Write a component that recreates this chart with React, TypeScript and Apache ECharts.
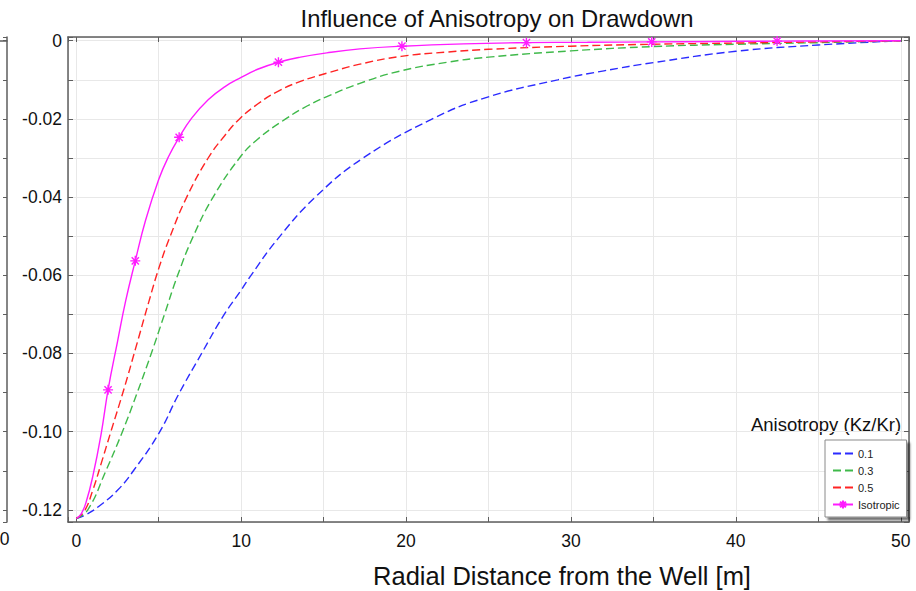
import React, { useEffect, useRef } from 'react';
import * as echarts from 'echarts';

// ---------- data ----------
const SERIES_NAMES = ['0.1', '0.3', '0.5', 'Isotropic'];

const aniso01: [number, number][] = [
  [0, -0.1222], [0.6, -0.1212], [1.4, -0.119], [2.5, -0.115], [3.5, -0.1098],
  [5, -0.1005], [6.2, -0.0905], [7.6, -0.08], [8.9, -0.0705], [10, -0.0638],
  [10.6, -0.06], [12.2, -0.0508], [14.5, -0.04], [17.4, -0.03], [21.6, -0.02],
  [24.8, -0.0146], [29.2, -0.01], [32, -0.0077], [35, -0.0056], [40, -0.0027],
  [45, -0.0011], [50, 0],
];

const aniso03: [number, number][] = [
  [0, -0.1222], [0.7, -0.12], [1.8, -0.11], [2.8, -0.1], [3.7, -0.09],
  [4.55, -0.08], [5.35, -0.07], [6.15, -0.06], [7.1, -0.05], [8.3, -0.04],
  [9.9, -0.03], [11, -0.0252], [12.7, -0.02], [14, -0.0167], [15.2, -0.0143],
  [17.2, -0.0109], [19.6, -0.0078], [22.5, -0.0055], [25, -0.0042], [30, -0.0026],
  [35, -0.0015], [40, -0.0009], [45, -0.0005], [50, 0],
];

const aniso05: [number, number][] = [
  [0, -0.1222], [0.5, -0.1203], [1, -0.115], [1.5, -0.1083], [2.1, -0.1],
  [2.9, -0.089], [3.6, -0.0787], [4.4, -0.0668], [5, -0.0583], [5.7, -0.05],
  [6.7, -0.04], [8, -0.03], [9, -0.0243], [9.9, -0.02], [11, -0.0162],
  [12.2, -0.013], [13.6, -0.0104], [15.2, -0.0083], [17.2, -0.006], [19.7, -0.004],
  [22.5, -0.0029], [25, -0.0022], [30, -0.0014], [35, -0.0009], [40, -0.0006],
  [45, -0.0003], [50, 0],
];

const isotropic: [number, number][] = [
  [0, -0.1222], [0.3, -0.121], [0.6, -0.118], [1, -0.1115], [1.5, -0.1008],
  [1.93, -0.0893], [2.5, -0.077], [3, -0.0665], [3.58, -0.0563], [4.2, -0.046],
  [5, -0.0355], [5.6, -0.0296], [6.24, -0.0247], [7, -0.0198], [8, -0.0151],
  [9, -0.0118], [10, -0.0094], [11, -0.0073], [12.26, -0.0055], [13.6, -0.0042],
  [15.2, -0.0031], [17.2, -0.0021], [19.75, -0.0014], [23.5, -0.0008], [27.3, -0.0005],
  [31, -0.0004], [34.9, -0.0003], [38.7, -0.0002], [42.5, -0.0001], [50, 0],
];

const isoMarkerX = [1.93, 3.58, 6.24, 12.26, 19.75, 27.3, 34.9, 42.5];

const X_LABEL_STEP = 10;
const Y_LABEL_STEP = 0.02;

// axis extents
const X_MIN = -0.5;
const X_MAX = 50.5;
const Y_MIN = -0.1231;
const Y_MAX = 0.00095;

// ---------- styles ----------
const FONT = '"Liberation Sans", Arial, Helvetica, sans-serif';
const AXIS_COLOR = '#5e5e5e';
const GRID_COLOR = '#e8e8e8';
const COLORS = ['#2b2bff', '#3fb94a', '#ff2424', '#ff1cff'];
const STAR = 'path://M0,-5L0,5M-5,0L5,0M-3.6,-3.6L3.6,3.6M-3.6,3.6L3.6,-3.6';

const xFormatter = (v: number) => {
  const r = v / X_LABEL_STEP;
  return Math.abs(r - Math.round(r)) < 1e-6 ? String(Math.round(v)) : '';
};
const yFormatter = (v: number) => {
  const r = v / Y_LABEL_STEP;
  if (Math.abs(r - Math.round(r)) > 1e-6) return '';
  if (Math.abs(v) < 1e-9) return '0';
  return v.toFixed(2);
};

const App: React.FC = () => {
  const ref = useRef<HTMLDivElement>(null);

  useEffect(() => {
    document.body.style.margin = '0';
    if (!ref.current) return;
    const chart = echarts.init(ref.current, null, { renderer: 'svg' });

    const valueAxisBase = {
      type: 'value' as const,
      axisLine: { show: true, onZero: false, lineStyle: { color: AXIS_COLOR, width: 1.5 } },
      axisTick: { show: true, inside: true, length: 5, lineStyle: { color: AXIS_COLOR, width: 1 } },
    };

    const dashed = (name: string, data: [number, number][], color: string) => ({
      name,
      type: 'line' as const,
      xAxisIndex: 0,
      yAxisIndex: 0,
      data,
      smooth: 0.45,
      symbol: 'none',
      lineStyle: { color, width: 1.4, type: [8, 4] },
      itemStyle: { color },
      z: 3,
    });

    const option: any = {
      animation: false,
      textStyle: { fontFamily: FONT },
      grid: [
        { left: 68, right: 7, top: 37, bottom: 69, outerBoundsMode: 'none', containLabel: false },
        { left: -100, width: 107, top: 37, bottom: 69, outerBoundsMode: 'none', containLabel: false },
      ],
      xAxis: [
        {
          ...valueAxisBase,
          gridIndex: 0,
          min: X_MIN,
          max: X_MAX,
          splitNumber: 10,
          position: 'bottom',
          axisLabel: { show: true, interval: 0, formatter: xFormatter, color: '#111', fontSize: 17.5, margin: 10, fontFamily: FONT, hideOverlap: false },
          splitLine: { show: true, lineStyle: { color: GRID_COLOR, width: 1 } },
        },
        {
          ...valueAxisBase,
          gridIndex: 0,
          min: X_MIN,
          max: X_MAX,
          splitNumber: 10,
          position: 'top',
          axisLabel: { show: false },
          splitLine: { show: false },
        },
        {
          type: 'value',
          gridIndex: 1,
          min: 0,
          max: 1,
          position: 'bottom',
          axisLine: { show: true, lineStyle: { color: AXIS_COLOR, width: 1.5 } },
          axisTick: { show: false },
          axisLabel: { show: false },
          splitLine: { show: false },
        },
      ],
      yAxis: [
        {
          ...valueAxisBase,
          gridIndex: 0,
          min: Y_MIN,
          max: Y_MAX,
          splitNumber: 12,
          position: 'left',
          axisLabel: { show: true, interval: 0, formatter: yFormatter, color: '#111', fontSize: 17.5, margin: 6, fontFamily: FONT, hideOverlap: false },
          splitLine: { show: true, lineStyle: { color: GRID_COLOR, width: 1 } },
        },
        {
          ...valueAxisBase,
          gridIndex: 0,
          min: Y_MIN,
          max: Y_MAX,
          splitNumber: 12,
          position: 'right',
          axisLabel: { show: false },
          splitLine: { show: false },
        },
        {
          ...valueAxisBase,
          gridIndex: 1,
          min: Y_MIN,
          max: Y_MAX,
          splitNumber: 12,
          position: 'right',
          axisTick: { show: true, inside: true, length: 4, lineStyle: { color: AXIS_COLOR, width: 1 } },
          axisLabel: { show: false },
          splitLine: { show: false },
        },
      ],
      legend: {
        orient: 'vertical',
        left: 825,
        top: 440,
        data: SERIES_NAMES.map((name, i) =>
          i < 3 ? { name, itemStyle: { opacity: 0 } } : { name }
        ),
        backgroundColor: '#ffffff',
        borderColor: '#8a8a8a',
        borderWidth: 1,
        borderRadius: 0,
        shadowColor: 'rgba(0,0,0,0.55)',
        shadowBlur: 2,
        shadowOffsetX: 3,
        shadowOffsetY: 3,
        padding: [7, 7, 6, 7],
        itemWidth: 20,
        itemHeight: 10,
        itemGap: 4,
        textStyle: { fontSize: 11, lineHeight: 13, color: '#222', fontFamily: FONT },
      },
      series: [
        dashed(SERIES_NAMES[0], aniso01, COLORS[0]),
        dashed(SERIES_NAMES[1], aniso03, COLORS[1]),
        dashed(SERIES_NAMES[2], aniso05, COLORS[2]),
        {
          name: SERIES_NAMES[3],
          type: 'line',
          xAxisIndex: 0,
          yAxisIndex: 0,
          smooth: 0.45,
          symbol: STAR,
          symbolSize: 10,
          symbolKeepAspect: true,
          showSymbol: true,
          data: isotropic.map(([x, y]) => ({
            value: [x, y],
            symbol: isoMarkerX.includes(x) ? STAR : 'none',
          })),
          lineStyle: { color: COLORS[3], width: 1.4, type: 'solid' },
          itemStyle: { color: COLORS[3], borderColor: COLORS[3], borderWidth: 1.4 },
          z: 4,
        },
      ],
      graphic: [
        {
          type: 'text',
          x: 497,
          y: 18,
          style: { text: 'Influence of Anisotropy on Drawdown', font: `23.8px ${FONT}`, fill: '#111', align: 'center', verticalAlign: 'middle' },
        },
        {
          type: 'text',
          x: 562,
          y: 576,
          style: { text: 'Radial Distance from the Well [m]', font: `25.5px ${FONT}`, fill: '#111', align: 'center', verticalAlign: 'middle' },
        },
        {
          type: 'text',
          x: 826,
          y: 424,
          style: { text: 'Anisotropy (Kz/Kr)', font: `18.5px ${FONT}`, fill: '#111', align: 'center', verticalAlign: 'middle' },
        },
        {
          type: 'text',
          x: 4.5,
          y: 539,
          style: { text: '0', font: `17.5px ${FONT}`, fill: '#111', align: 'center', verticalAlign: 'middle' },
        },
      ],
    };

    chart.setOption(option);
    return () => chart.dispose();
  }, []);

  return <div ref={ref} style={{ width: 916, height: 591 }} />;
};

export default App;
